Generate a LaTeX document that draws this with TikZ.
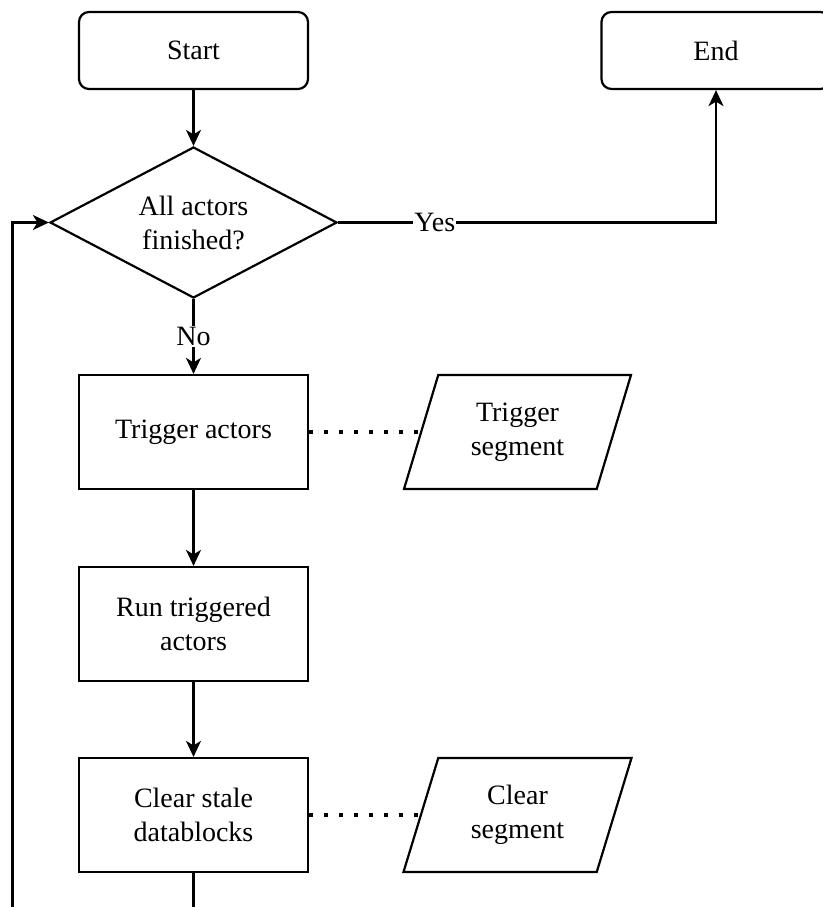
\documentclass[tikz,border=0pt]{standalone}
\usepackage{fontspec}
\setmainfont{Liberation Serif}
\usetikzlibrary{arrows.meta,shapes.geometric}

\def\pxu{0.75pt}

\tikzset{
  every node/.style={font=\fontsize{21pt}{25.5pt}\selectfont, align=center},
  base/.style={draw, line width=2.2*\pxu, inner sep=0pt},
  terminal/.style={base, rectangle, rounded corners=10*\pxu,
    minimum width=229*\pxu, minimum height=77*\pxu},
  process/.style={base, rectangle,
    minimum width=229*\pxu, minimum height=114*\pxu},
  decision/.style={base, diamond, aspect=1.9,
    minimum width=287*\pxu, minimum height=151*\pxu},
  datashape/.style={base, trapezium, trapezium left angle=71,
    trapezium right angle=109, trapezium stretches=true,
    minimum width=229*\pxu, minimum height=114*\pxu},
  flow/.style={line width=2.2*\pxu,
    -{Stealth[length=16*\pxu, width=15*\pxu, inset=4.5*\pxu]}},
  assoc/.style={line width=4*\pxu, dash pattern=on 4*\pxu off 11*\pxu},
  lbl/.style={fill=white, inner sep=1*\pxu},
}

\begin{document}
\begin{tikzpicture}[x=\pxu, y=-\pxu]
  \useasboundingbox (0,0) rectangle (823,907);
  \fill[white] (0,0) rectangle (823,907);
  \clip (0,0) rectangle (823,907);

  % nodes
  \node[terminal]  (start) at (193.5,50.5) {Start};
  \node[terminal]  (end)   at (716,50.5)   {End};
  \node[decision]  (dec)   at (193.5,222.5) {All actors\\finished?};
  \node[process]   (trig)  at (193.5,432)  {Trigger actors};
  \node[datashape] (tseg)  at (517.5,432)  {Trigger\\segment};
  \node[process]   (run)   at (193.5,624)  {Run triggered\\actors};
  \node[process]   (clear) at (193.5,815)  {Clear stale\\datablocks};
  \node[datashape] (cseg)  at (517.5,815)  {Clear\\segment};

  % loop-back corner below the visible area
  \coordinate (loopbot) at (12.5,960);

  % connectors
  \draw[flow] (start) -- (dec);
  \draw[flow] (dec.east) -- node[lbl, pos=0.256] {Yes} (end.south |- dec.east) -- (end.south);
  \draw[flow] (dec.south) -- node[lbl, pos=0.5] {No} (trig.north);
  \draw[flow] (trig) -- (run);
  \draw[flow] (run) -- (clear);
  \draw[flow] (clear.south) |- (loopbot) |- (dec.west);

  \draw[assoc] (trig.east) -- (tseg.left side);
  \draw[assoc] (clear.east) -- (cseg.left side);
\end{tikzpicture}
\end{document}
